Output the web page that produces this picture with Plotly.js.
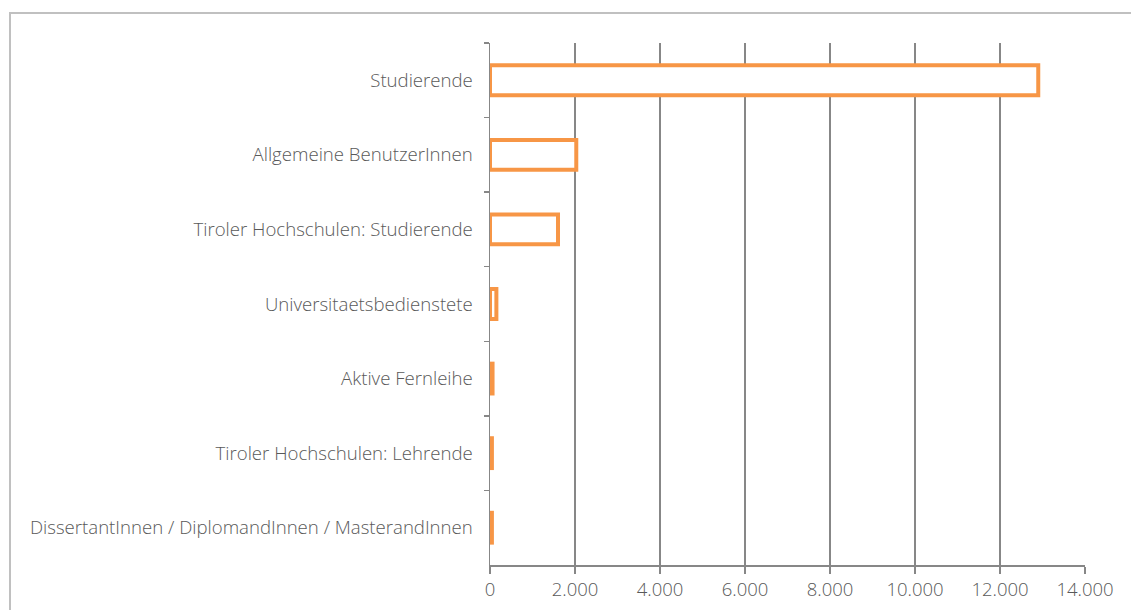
<!DOCTYPE html>
<html>
<head>
<meta charset="utf-8">
<script src="https://cdn.plot.ly/plotly-3.0.1.min.js"></script>
<style>
  html, body { margin: 0; padding: 0; background: #fff; overflow: hidden; }
  #frame { position: absolute; left: 9px; top: 12px; width: 1200px; height: 700px;
           border-left: 2px solid #C0C0C0; border-top: 2px solid #C0C0C0; box-sizing: border-box; }
  #chart { position: absolute; left: 0; top: 0; width: 1131px; height: 610px; }
</style>
</head>
<body>
<div id="frame"></div>
<div id="chart"></div>
<script>
const categories = [
  "Studierende",
  "Allgemeine BenutzerInnen",
  "Tiroler Hochschulen: Studierende",
  "Universitaetsbedienstete",
  "Aktive Fernleihe",
  "Tiroler Hochschulen: Lehrende",
  "DissertantInnen / DiplomandInnen / MasterandInnen"
];
const values = [12900, 2030, 1600, 150, 60, 45, 45];
const xTicks = [0, 2000, 4000, 6000, 8000, 10000, 12000, 14000];

const axisGray = "#878787";
const textGray = "#595959";

const trace = {
  type: "bar",
  orientation: "h",
  x: values,
  y: categories,
  width: 0.4,
  marker: { color: "#FFFFFF", line: { color: "#F79646", width: 4 } },
  hoverinfo: "x+y"
};

const layout = {
  width: 1131,
  height: 610,
  margin: { l: 490, r: 46, t: 43, b: 45 },
  paper_bgcolor: "rgba(0,0,0,0)",
  plot_bgcolor: "rgba(0,0,0,0)",
  separators: ",.",
  showlegend: false,
  font: { family: "Open Sans, sans-serif", size: 17, color: textGray, weight: 300 },
  xaxis: {
    range: [0, 14000],
    tickvals: xTicks,
    tickformat: ",d",
    showgrid: true,
    gridcolor: axisGray,
    gridwidth: 1.5,
    showline: true,
    linecolor: axisGray,
    linewidth: 1.5,
    ticks: "outside",
    ticklen: 7,
    tickcolor: axisGray,
    tickwidth: 1.5,
    zeroline: false,
    fixedrange: true,
    tickfont: { family: "Open Sans, sans-serif", size: 18.5, color: textGray, weight: 300 }
  },
  yaxis: {
    type: "category",
    categoryorder: "array",
    categoryarray: categories,
    autorange: "reversed",
    showgrid: false,
    showline: true,
    linecolor: axisGray,
    linewidth: 1.5,
    ticks: "outside",
    tickson: "boundaries",
    ticklen: 5,
    tickcolor: axisGray,
    tickwidth: 1.5,
    zeroline: false,
    fixedrange: true,
    ticklabelstandoff: 12,
    tickfont: { family: "Open Sans, sans-serif", size: 18.6, color: textGray, weight: 300 }
  }
};

Plotly.newPlot("chart", [trace], layout, { displayModeBar: false, staticPlot: true });
</script>
</body>
</html>
